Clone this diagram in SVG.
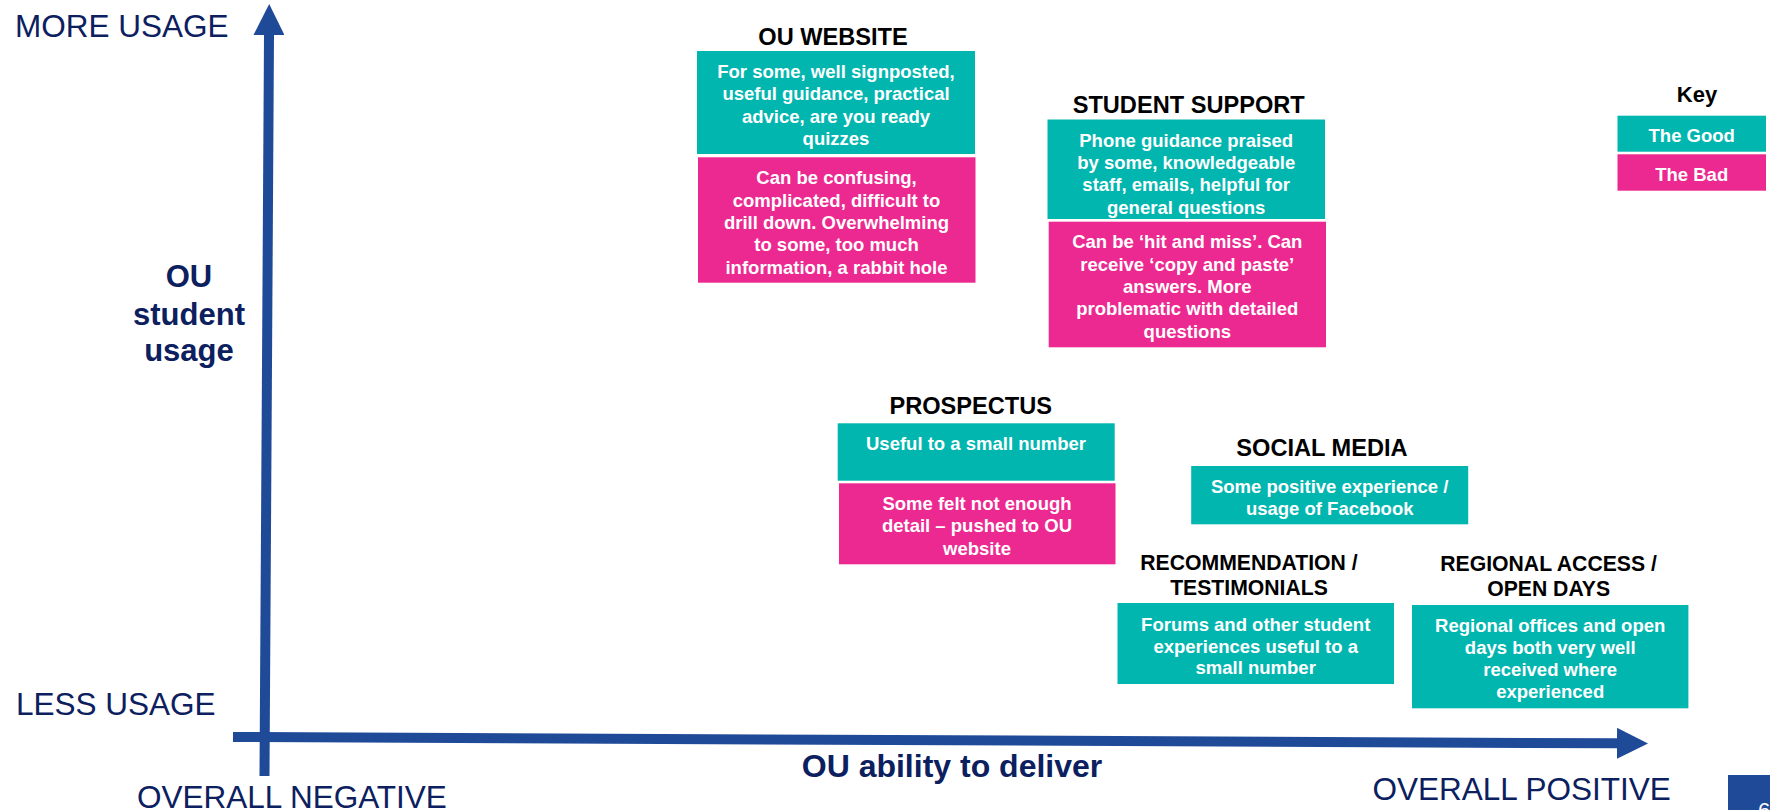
<svg xmlns="http://www.w3.org/2000/svg" width="1770" height="810" viewBox="0 0 1770 810">
  <style>
    .axis-word { font-family: "Liberation Sans", Arial, sans-serif; font-size: 31.5px; fill: #0c2060; }
    .axis-title { font-family: "Liberation Sans", Arial, sans-serif; font-size: 31px; font-weight: bold; fill: #0c2060; text-anchor: middle; }
    .head { font-family: "Liberation Sans", Arial, sans-serif; font-size: 23.6px; font-weight: bold; fill: #000; text-anchor: middle; }
    .head2 { font-family: "Liberation Sans", Arial, sans-serif; font-size: 21.2px; font-weight: bold; fill: #000; text-anchor: middle; }
    .body { font-family: "Liberation Sans", Arial, sans-serif; font-size: 18.5px; font-weight: bold; fill: #fff; text-anchor: middle; }
    .good { fill: #02b6b0; }
    .bad { fill: #ec2990; }
    .axis { stroke: #1f4a98; stroke-width: 10; fill: none; marker-end: url(#arrow); }
  </style>
  <defs>
    <marker id="arrow" markerUnits="userSpaceOnUse" viewBox="0 0 31 31" markerWidth="31" markerHeight="31" refX="0" refY="15.5" orient="auto">
      <path d="M0,0 L31,15.5 L0,31 Z" fill="#1f4a98"/>
    </marker>
  </defs>

  <rect width="1770" height="810" fill="#fff"/>

  <!-- axes -->
  <g id="connectors">
    <line class="axis" x1="264.5" y1="776" x2="269" y2="35"/>
    <line class="axis" x1="233" y1="737" x2="1617" y2="743.3"/>
  </g>

  <!-- axis labels -->
  <g id="axis-labels">
    <text class="axis-word" x="15" y="36.7">MORE USAGE</text>
    <text class="axis-word" x="16" y="715">LESS USAGE</text>
    <text class="axis-word" x="137" y="807.5">OVERALL NEGATIVE</text>
    <text class="axis-word" x="1372.5" y="799.5">OVERALL POSITIVE</text>
    <text class="axis-title" x="189" y="287">OU</text>
    <text class="axis-title" x="189" y="325">student</text>
    <text class="axis-title" x="189" y="361">usage</text>
    <text class="axis-title" x="952" y="776.7" style="font-size:32px">OU ability to deliver</text>
  </g>

  <!-- OU website -->
  <g id="ou-website">
    <text class="head" x="833" y="45">OU WEBSITE</text>
    <rect class="good" x="697" y="51" width="278" height="103"/>
    <text class="body" x="836" y="78">For some, well signposted,</text>
    <text class="body" x="836" y="100.3">useful guidance, practical</text>
    <text class="body" x="836" y="122.6">advice, are you ready</text>
    <text class="body" x="836" y="144.9">quizzes</text>
    <rect class="bad" x="698" y="157.3" width="277.5" height="125.4"/>
    <text class="body" x="836.5" y="184.3">Can be confusing,</text>
    <text class="body" x="836.5" y="206.6">complicated, difficult to</text>
    <text class="body" x="836.5" y="228.9">drill down. Overwhelming</text>
    <text class="body" x="836.5" y="251.2">to some, too much</text>
    <text class="body" x="836.5" y="273.5">information, a rabbit hole</text>
  </g>

  <!-- Student support -->
  <g id="student-support">
    <text class="head" x="1188.7" y="112.7">STUDENT SUPPORT</text>
    <rect class="good" x="1047.5" y="119.5" width="277.5" height="99.5"/>
    <text class="body" x="1186.2" y="146.7">Phone guidance praised</text>
    <text class="body" x="1186.2" y="169">by some, knowledgeable</text>
    <text class="body" x="1186.2" y="191.3">staff, emails, helpful for</text>
    <text class="body" x="1186.2" y="213.6">general questions</text>
    <rect class="bad" x="1048.7" y="221.7" width="277.3" height="125.6"/>
    <text class="body" x="1187.3" y="248.3">Can be ‘hit and miss’. Can</text>
    <text class="body" x="1187.3" y="270.6">receive ‘copy and paste’</text>
    <text class="body" x="1187.3" y="292.9">answers. More</text>
    <text class="body" x="1187.3" y="315.2">problematic with detailed</text>
    <text class="body" x="1187.3" y="337.5">questions</text>
  </g>

  <!-- Prospectus -->
  <g id="prospectus">
    <text class="head" x="970.7" y="414.3">PROSPECTUS</text>
    <rect class="good" x="837.7" y="423.3" width="277" height="57.4"/>
    <text class="body" x="976" y="450">Useful to a small number</text>
    <rect class="bad" x="839" y="483.3" width="276.5" height="81"/>
    <text class="body" x="977" y="510">Some felt not enough</text>
    <text class="body" x="977" y="532.3">detail – pushed to OU</text>
    <text class="body" x="977" y="554.6">website</text>
  </g>

  <!-- Social media -->
  <g id="social-media">
    <text class="head" x="1322" y="455.7">SOCIAL MEDIA</text>
    <rect class="good" x="1191.2" y="466" width="277" height="58.3"/>
    <text class="body" x="1329.7" y="493.3">Some positive experience /</text>
    <text class="body" x="1329.7" y="515.3">usage of Facebook</text>
  </g>

  <!-- Recommendation / testimonials -->
  <g id="recommendation">
    <text class="head2" x="1249" y="570">RECOMMENDATION /</text>
    <text class="head2" x="1249" y="595">TESTIMONIALS</text>
    <rect class="good" x="1117.5" y="603" width="276.5" height="81"/>
    <text class="body" x="1255.7" y="630.7">Forums and other student</text>
    <text class="body" x="1255.7" y="652.5">experiences useful to a</text>
    <text class="body" x="1255.7" y="674.3">small number</text>
  </g>

  <!-- Regional access / open days -->
  <g id="regional-access">
    <text class="head2" x="1548.6" y="570.7">REGIONAL ACCESS /</text>
    <text class="head2" x="1548.6" y="596">OPEN DAYS</text>
    <rect class="good" x="1412" y="605" width="276.4" height="103.3"/>
    <text class="body" x="1550.2" y="632.3">Regional offices and open</text>
    <text class="body" x="1550.2" y="654.3">days both very well</text>
    <text class="body" x="1550.2" y="676.3">received where</text>
    <text class="body" x="1550.2" y="698.3">experienced</text>
  </g>

  <!-- Key -->
  <g id="key">
    <text class="head" x="1697" y="101.7" style="font-size:22px">Key</text>
    <rect class="good" x="1617.5" y="115.7" width="148.5" height="36"/>
    <text class="body" x="1691.7" y="142.3">The Good</text>
    <rect class="bad" x="1617.5" y="154.3" width="148.5" height="36.4"/>
    <text class="body" x="1691.7" y="181">The Bad</text>
  </g>

  <!-- page tab -->
  <g id="page-tab">
    <rect x="1728" y="775" width="42" height="35" fill="#1f4a98"/>
    <text x="1758" y="818" font-family="Liberation Sans, Arial, sans-serif" font-size="22" fill="#fff">6</text>
  </g>
</svg>
